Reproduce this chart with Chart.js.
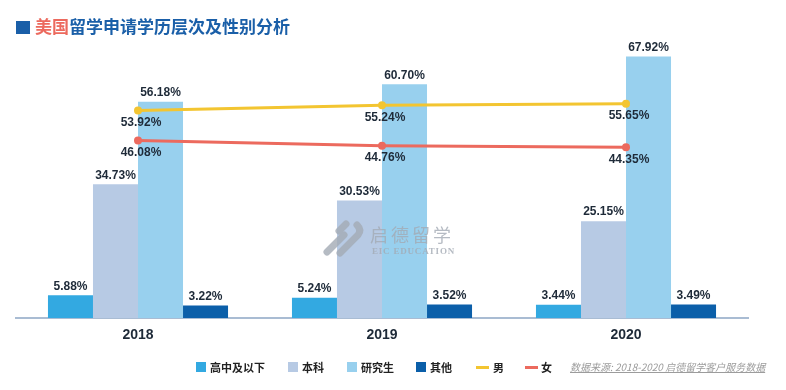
<!DOCTYPE html>
<html><head><meta charset="utf-8">
<script src="https://cdn.jsdelivr.net/npm/chart.js@4.4.1/dist/chart.umd.min.js"></script>
<style>
html,body{margin:0;padding:0;background:#fff;width:786px;height:390px;overflow:hidden;font-family:"Noto Sans CJK SC","Liberation Sans",sans-serif;}
#wrap{position:relative;width:786px;height:390px;}
#c{position:absolute;left:0;top:0;}
.title{position:absolute;left:16px;top:16px;font-size:17px;font-weight:bold;color:#1a5fa8;line-height:20px;white-space:nowrap;}
.title .sq{display:inline-block;width:14px;height:13px;background:#1a5fa8;vertical-align:-1px;margin-right:5px;}
.title .hl{color:#ec6a5e;}
.lg{position:absolute;top:359px;font-size:11px;font-weight:bold;color:#222;line-height:16px;white-space:nowrap;}
.box{position:absolute;width:10px;height:10px;}
.ln{position:absolute;width:13px;height:3px;}
.src{position:absolute;left:570px;top:359px;font-size:10px;font-style:italic;color:#9c9c9c;text-decoration:underline;white-space:nowrap;line-height:16px;}
.wm{position:absolute;left:322px;top:220px;opacity:0.8;pointer-events:none;}
.wm .cn{position:absolute;left:48px;top:3px;font-size:18px;color:#a3aab4;letter-spacing:3px;white-space:nowrap;line-height:22px;}
.wm .en{position:absolute;left:50px;top:26px;font-family:"Liberation Serif",serif;font-weight:bold;font-size:9px;color:#a3aab4;letter-spacing:0.8px;white-space:nowrap;line-height:10px;}
</style></head>
<body><div id="wrap">
<canvas id="c" width="786" height="390"></canvas>
<div class="title"><span class="sq"></span><span class="hl">美国</span>留学申请学历层次及性别分析</div>
<div class="wm">
<svg width="46" height="38" viewBox="0 0 46 38" style="position:absolute;left:0;top:0">
<g stroke="#a3aab4" stroke-width="7" stroke-linecap="round" fill="none">
<path d="M5 32 L22 15"/>
<path d="M18 33 L36 15 Q40 10 35 5"/>
<path d="M17 11 L24 4"/>
</g></svg>
<div class="cn">启德留学</div>
<div class="en">EIC EDUCATION</div>
</div>
<div id="legend"></div>
<div class="src">数据来源: 2018-2020 启德留学客户服务数据</div>
</div>
<script>
const categories = ["2018", "2019", "2020"];
const seriesNames = ["高中及以下", "本科", "研究生", "其他", "男", "女"];
const highSchool = [5.88, 5.24, 3.44];
const bachelor = [34.73, 30.53, 25.15];
const graduate = [56.18, 60.70, 67.92];
const other = [3.22, 3.52, 3.49];
const male = [53.92, 55.24, 55.65];
const female = [46.08, 44.76, 44.35];
const colors = ["#33a9e1", "#b7cae4", "#98d0ee", "#0b5fa9", "#f3c531", "#ec6a5e"];

const legendPos = [
  {x:196, tx:210, type:"box"},
  {x:288, tx:302, type:"box"},
  {x:347, tx:361, type:"box"},
  {x:416, tx:430, type:"box"},
  {x:476, tx:493, type:"ln"},
  {x:525, tx:541, type:"ln"}
];
const lg = document.getElementById('legend');
seriesNames.forEach((n,i)=>{
  const p = legendPos[i];
  const m = document.createElement('div');
  m.className = p.type;
  m.style.left = p.x+'px';
  m.style.top = (p.type==="box"?362:366)+'px';
  m.style.background = colors[i];
  lg.appendChild(m);
  const t = document.createElement('div');
  t.className='lg'; t.style.left=p.tx+'px'; t.textContent=n;
  lg.appendChild(t);
});

const labelPlugin = {
  id:'valLabels',
  afterDatasetsDraw(chart){
    const ctx = chart.ctx;
    ctx.save();
    ctx.font = 'bold 12px "Liberation Sans", Arial, sans-serif';
    ctx.fillStyle = '#1e2a38';
    ctx.textAlign = 'center';
    chart.data.datasets.forEach((ds,di)=>{
      const meta = chart.getDatasetMeta(di);
      meta.data.forEach((el,i)=>{
        const v = ds.data[i].toFixed(2)+'%';
        if(ds.type==='line'){
          ctx.textBaseline='middle';
          ctx.fillText(v, el.x+3, el.y+12);
        } else {
          ctx.textBaseline='bottom';
          ctx.fillText(v, el.x, el.y-3);
        }
      });
    });
    ctx.restore();
  }
};

const barSets = [highSchool, bachelor, graduate, other].map((d,i)=>({
  type:'bar', label:seriesNames[i], data:d, backgroundColor:colors[i],
  borderWidth:0, order:2, categoryPercentage:0.738, barPercentage:1.0
}));
const lineSets = [male, female].map((d,i)=>({
  type:'line', label:seriesNames[4+i], data:d, borderColor:colors[4+i],
  backgroundColor:colors[4+i], borderWidth:3, pointRadius:4, pointHoverRadius:4,
  pointBackgroundColor:colors[4+i], pointBorderWidth:0, tension:0, order:1, fill:false
}));

new Chart(document.getElementById('c'), {
  data:{labels:categories, datasets:[...barSets, ...lineSets]},
  options:{
    responsive:false, animation:false,
    layout:{padding:{left:16, right:38, top:10, bottom:42}},
    plugins:{legend:{display:false}, tooltip:{enabled:false}, title:{display:false}},
    scales:{
      x:{
        grid:{display:false, drawTicks:false},
        border:{display:true, color:'#a9bcd3', width:2},
        ticks:{padding:9, color:'#1e2a38', font:{family:'"Liberation Sans", Arial, sans-serif', size:14, weight:'bold'}},
        afterFit(s){ s.height = 30; }
      },
      y:{display:false, min:0, max:80}
    }
  },
  plugins:[labelPlugin]
});
</script>
</body></html>
